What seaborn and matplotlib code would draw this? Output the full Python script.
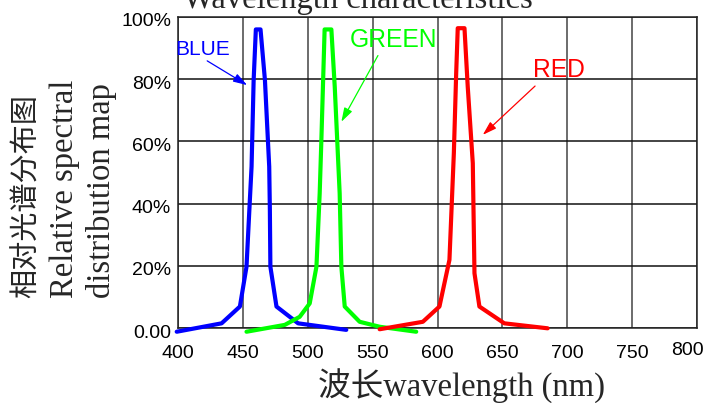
import matplotlib
matplotlib.use("Agg")
import matplotlib.pyplot as plt
import matplotlib.transforms as mtransforms
import seaborn as sns
import pandas as pd

# ---- data ----
blue_wl = [399, 433.6, 447.7, 452.8, 455.0, 456.7, 458.3, 460.0, 463.6, 467.0, 470.3, 470.8, 471.2, 475.9, 492.6, 529.7]
blue_val = [-1.2, 1.5, 6.9, 19.7, 38.0, 51.9, 79.7, 96.0, 96.0, 79.7, 51.9, 38.0, 19.7, 6.9, 1.5, -0.6]

green_wl = [452.8, 482.3, 493.8, 501.5, 506.7, 509.2, 510.5, 513.0, 518.2, 520.8, 524.6, 525.9, 528.5, 540.0, 555.4, 583.6]
green_val = [-1.2, 1.0, 3.6, 7.9, 19.7, 43.3, 60.5, 96.0, 96.0, 77.6, 43.3, 19.7, 6.9, 2.0, 0.4, -1.2]

red_wl = [555.4, 588.7, 601.5, 609.2, 612.6, 614.4, 615.6, 620.8, 623.3, 627.2, 628.5, 632.3, 651.5, 684.9]
red_val = [-0.4, 2.0, 6.9, 21.9, 56.2, 81.9, 96.4, 96.4, 77.6, 53.0, 17.6, 6.9, 1.5, -0.1]

x_ticks = [400, 450, 500, 550, 600, 650, 700, 750, 800]
y_ticks = [0, 20, 40, 60, 80, 100]
y_tick_labels = ["0.00", "20%", "40%", "60%", "80%", "100%"]

series = [("BLUE", blue_wl, blue_val, "#0000FF"),
          ("GREEN", green_wl, green_val, "#00FF00"),
          ("RED", red_wl, red_val, "#FF0000")]

# annotations: label, text pos, arrow tail, arrow head, size
annots = [("BLUE", (418.8, 89.5), (422.5, 85.9), (453.3, 78.1), 15, "#0000FF"),
          ("GREEN", (566.2, 92.6), (554.1, 87.6), (525.9, 66.3), 17.7, "#00FF00"),
          ("RED", (693.8, 82.8), (675.2, 77.8), (634.9, 62.1), 17.7, "#FF0000")]

sns.set_theme(style="white")
plt.rcParams["font.family"] = ["Liberation Sans", "DejaVu Sans"]

W, H = 707, 403
fig = plt.figure(figsize=(W / 100, H / 100), dpi=100)
ax = fig.add_axes([178 / W, 1 - 328 / H, (697 - 178) / W, (328 - 17) / H])

for name, wl, val, col in series:
    df = pd.DataFrame({"wl": wl, "val": val})
    sns.lineplot(data=df, x="wl", y="val", ax=ax, sort=False, color=col,
                 linewidth=3.0, clip_on=False, zorder=5, estimator=None)

ax.set_xlim(400, 800)
ax.set_ylim(0, 100)
ax.set_xticks(x_ticks)
ax.set_xticklabels([str(t) for t in x_ticks], fontsize=14, family="Liberation Sans")
ax.set_yticks(y_ticks)
ax.set_yticklabels(y_tick_labels, fontsize=14, family="Liberation Sans")
ax.tick_params(axis="x", length=0, pad=12, colors="black")
ax.tick_params(axis="y", length=0, pad=5, colors="black")

ax.grid(True, which="major", axis="y", color="#111111", linewidth=1.1)
ax.grid(True, which="major", axis="x", color="#444444", linewidth=1.1)
for s in ax.spines.values():
    s.set_color("#222222")
    s.set_linewidth(1.1)
    s.set_visible(True)

ax.set_xlabel("")
ax.set_ylabel("")

# shift y tick labels slightly down, and 800 label left/up
off = mtransforms.ScaledTranslation(0, -3 / 100, fig.dpi_scale_trans)
for lab in ax.get_yticklabels():
    lab.set_transform(lab.get_transform() + off)
xl = ax.get_xticklabels()
off800 = mtransforms.ScaledTranslation(-10 / 100, 3 / 100, fig.dpi_scale_trans)
xl[-1].set_transform(xl[-1].get_transform() + off800)

for name, tpos, tail, head, fs, col in annots:
    ax.annotate("", xy=head, xytext=tail,
                arrowprops=dict(arrowstyle="-|>,head_length=0.7,head_width=0.22",
                                color=col, lw=0.9, shrinkA=0, shrinkB=0),
                zorder=6, annotation_clip=False)
    ax.text(tpos[0], tpos[1], name, color=col, fontsize=fs, ha="center",
            va="center", family="Liberation Sans", zorder=6)

serif = ["Liberation Serif", "Noto Sans CJK SC"]
# title (partly cut off at the top)
fig.text(357.5 / W, 1 - 8 / H, "Wavelength characteristics", ha="center",
         va="baseline", fontsize=23.5, family=serif)
# x label
fig.text(461 / W, 1 - 397 / H, "波长wavelength (nm)", ha="center",
         va="baseline", fontsize=23.5, family=serif)
# y label lines
fig.text(35 / W, 1 - 298 / H, "相对光谱分布图", rotation=90, rotation_mode="anchor",
         ha="left", va="baseline", fontsize=21, family=["Noto Sans CJK SC", "DejaVu Sans"])
fig.text(73 / W, 1 - 298 / H, "Relative spectral", rotation=90, rotation_mode="anchor",
         ha="left", va="baseline", fontsize=23.5, family=serif)
fig.text(110 / W, 1 - 298 / H, "distribution map", rotation=90, rotation_mode="anchor",
         ha="left", va="baseline", fontsize=23.5, family=serif)

fig.savefig("out.png", dpi=100)
